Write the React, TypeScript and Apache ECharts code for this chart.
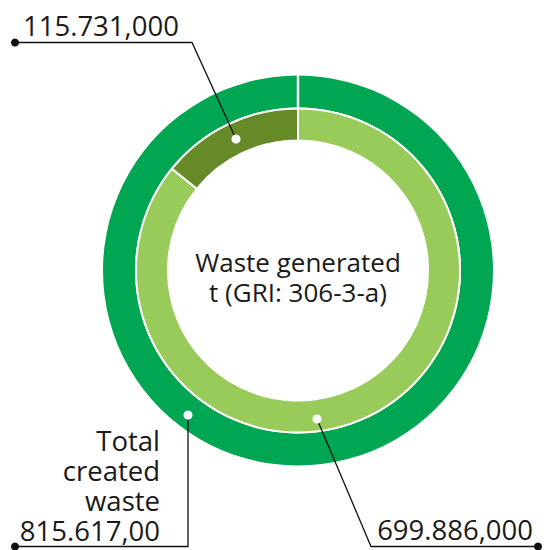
import React, { useEffect, useRef } from "react";
import * as echarts from "echarts";

const innerNames = ["Other waste", "Hazardous waste"];
const innerValues = [699.886, 115.731];
const innerLabels = ["699.886,000", "115.731,000"];
const totalName = "Total created waste";
const totalValue = 815.617;
const totalLabel = "815.617,00";
const centerTitle = ["Waste generated", "t (GRI: 306-3-a)"];

const FONT = "'Open Sans', sans-serif";
const TXT = "#1a1a1a";

export default function App() {
  const ref = useRef<HTMLDivElement>(null);
  useEffect(() => {
    if (!ref.current) return;
    const chart = echarts.init(ref.current, undefined, { renderer: "svg" });
    const leaders = [
      [
        [236, 139],
        [192, 42.5],
        [15, 42.5],
      ],
      [
        [317, 419],
        [371, 546.5],
        [538, 546.5],
      ],
      [
        [188, 415],
        [188, 546.5],
        [15, 546.5],
      ],
    ];
    const option: any = {
      animation: false,
      series: [
        {
          type: "pie",
          center: [298, 270.5],
          radius: [163, 195],
          startAngle: 90,
          avoidLabelOverlap: false,
          silent: true,
          itemStyle: { color: "#00a651" },
          label: {
            show: true,
            position: "outside",
            formatter: () => "Total\ncreated\nwaste\n" + totalLabel,
            fontFamily: FONT,
            fontSize: 27.5,
            lineHeight: 30,
            color: TXT,
            align: "right",
          },
          labelLine: { show: false },
          labelLayout: () => ({
            x: 160,
            y: 485,
            align: "right",
            verticalAlign: "middle",
          }),
          data: [{ name: totalName, value: totalValue }],
        },
        {
          type: "pie",
          center: [298, 270.5],
          radius: [130, 162],
          startAngle: 90,
          clockwise: true,
          avoidLabelOverlap: false,
          silent: true,
          itemStyle: { borderColor: "#ffffff", borderWidth: 2 },
          label: {
            show: true,
            position: "outside",
            formatter: (p: any) => innerLabels[p.dataIndex],
            fontFamily: FONT,
            fontSize: 27.5,
            color: TXT,
          },
          labelLine: { show: false },
          labelLayout: (p: any) =>
            p.dataIndex === 0
              ? { x: 533, y: 529, align: "right", verticalAlign: "middle" }
              : { x: 23, y: 25.5, align: "left", verticalAlign: "middle" },
          data: innerNames.map((n, i) => ({
            name: n,
            value: innerValues[i],
            itemStyle: { color: i === 0 ? "#99cb5b" : "#668a28" },
          })),
        },
      ],
      graphic: [
        {
          type: "line",
          shape: { x1: 298, y1: 74, x2: 298, y2: 110 },
          style: { stroke: "#ffffff", lineWidth: 2.5 },
          z: 100,
        },
        {
          type: "text",
          x: 298,
          y: 277,
          z: 100,
          style: {
            text: centerTitle.join("\n"),
            fontFamily: FONT,
            fontSize: 26,
            lineHeight: 30,
            fill: TXT,
            align: "center",
            verticalAlign: "middle",
          },
        },
        ...leaders.map((pts) => ({
          type: "polyline",
          shape: { points: pts },
          style: { stroke: "#111", lineWidth: 1.3, fill: "none" },
          z: 100,
        })),
        ...leaders.map((pts) => ({
          type: "circle",
          shape: { cx: pts[0][0], cy: pts[0][1], r: 4.5 },
          style: { fill: "#ffffff" },
          z: 101,
        })),
        ...leaders.map((pts) => ({
          type: "circle",
          shape: { cx: pts[2][0], cy: pts[2][1], r: 4 },
          style: { fill: "#111" },
          z: 101,
        })),
      ],
    };
    chart.setOption(option);
    return () => chart.dispose();
  }, []);
  return (
    <div
      ref={ref}
      style={{ position: "absolute", left: 0, top: 0, width: 546, height: 550 }}
    />
  );
}
